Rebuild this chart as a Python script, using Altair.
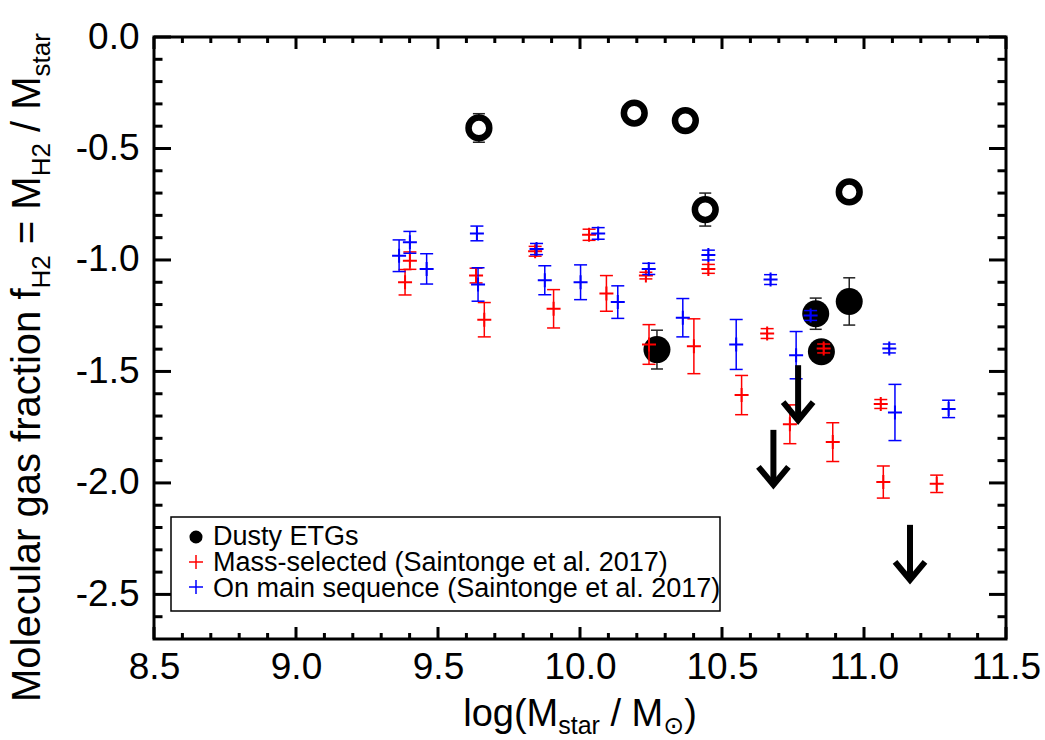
import altair as alt
import pandas as pd
import numpy as np

# ---------------- data ----------------
# Mass-selected (Saintonge et al. 2017) -- red
ms_x = [9.384, 9.401, 9.634, 9.663, 9.842, 9.907, 10.032, 10.093, 10.232, 10.243,
        10.401, 10.452, 10.569, 10.659, 10.739, 10.858, 10.890, 11.059, 11.068, 11.256]
ms_y = [-1.100, -1.003, -1.070, -1.268, -0.961, -1.219, -0.887, -1.150, -1.070, -1.379,
        -1.387, -1.040, -1.606, -1.330, -1.737, -1.397, -1.817, -1.646, -1.996, -2.004]
ms_err = [0.057, 0.039, 0.033, 0.077, 0.022, 0.086, 0.025, 0.080, 0.015, 0.089,
          0.123, 0.020, 0.088, 0.022, 0.087, 0.020, 0.087, 0.020, 0.072, 0.039]

# On main sequence (Saintonge et al. 2017) -- blue
sfms_x = [9.363, 9.401, 9.460, 9.637, 9.641, 9.847, 9.876, 10.002, 10.064, 10.133,
          10.242, 10.362, 10.452, 10.550, 10.671, 10.761, 10.812, 11.089, 11.109, 11.298]
sfms_y = [-0.981, -0.921, -1.040, -0.881, -1.110, -0.951, -1.091, -1.100, -0.881, -1.189,
          -1.040, -1.259, -0.978, -1.379, -1.088, -1.427, -1.249, -1.397, -1.684, -1.668]
sfms_err = [0.071, 0.049, 0.068, 0.033, 0.075, 0.025, 0.065, 0.078, 0.026, 0.073,
            0.025, 0.086, 0.022, 0.112, 0.022, 0.106, 0.022, 0.020, 0.126, 0.039]

# Dusty ETGs (filled)
etg_x = [10.271, 10.830, 10.850, 10.948]
etg_y = [-1.402, -1.241, -1.412, -1.186]
etg_err = [0.087, 0.070, 0.040, 0.106]

# Dusty ETGs (open rings)
ring_x = [9.644, 10.191, 10.371, 10.441, 10.948]
ring_y = [-0.408, -0.341, -0.375, -0.774, -0.695]
ring_err = [0.064, 0.040, 0.040, 0.074, 0.040]

# Upper limits (arrows)
lim_x = [10.681, 10.768, 11.162]
lim_y = [-1.762, -1.472, -2.188]

x_major = [8.5, 9.0, 9.5, 10.0, 10.5, 11.0, 11.5]
y_major = [0.0, -0.5, -1.0, -1.5, -2.0, -2.5]
x_minor = [round(v, 1) for v in np.arange(8.6, 11.45, 0.1) if round(v, 1) not in x_major]
y_minor = [round(v, 1) for v in np.arange(-0.1, -2.65, -0.1) if round(v, 1) not in y_major]

legend_labels = ["Dusty ETGs", "Mass-selected (Saintonge et al. 2017)",
                 "On main sequence (Saintonge et al. 2017)"]

# ---------------- layout / style ----------------
W, H = 852, 602
FONT = "Liberation Sans, Arial, DejaVu Sans"
RED, BLUE = "#ff0000", "#0000ff"
PLUS = "M-1,0L1,0M0,-1L0,1"
CHEV = "M-1,-1.2L0,0L1,-1.2"

xs = alt.Scale(domain=[8.5, 11.5], nice=False, zero=False)
ys = alt.Scale(domain=[-2.7, 0.0], nice=False, zero=False)
lab = "(datum.value < 0 ? '-' : '') + format(abs(datum.value), '.1f')"
xaxis = alt.Axis(values=x_major, labelExpr=lab, labelFontSize=37, labelFont=FONT,
                 labelColor="black", ticks=False, domain=False, grid=False,
                 labelPadding=10, title=None, labelFlush=False, labelOverlap=False)
yaxis = alt.Axis(values=y_major, labelExpr=lab, labelFontSize=37, labelFont=FONT,
                 labelColor="black", ticks=False, domain=False, grid=False,
                 labelPadding=15, title=None, labelFlush=False, labelOverlap=False)


def X(f):
    return alt.X(f"{f}:Q", scale=xs, axis=xaxis)


def Y(f):
    return alt.Y(f"{f}:Q", scale=ys, axis=yaxis)


dummy = pd.DataFrame({"a": [0]})
layers = []

# ---- inward ticks on all four sides ----
for vals, ln in ((x_major, 12), (x_minor, 6)):
    d = pd.DataFrame({"v": vals})
    layers.append(alt.Chart(d).mark_rule(color="black", strokeWidth=3).encode(
        x=X("v"), y=alt.value(H), y2=alt.value(H - ln)))
    layers.append(alt.Chart(d).mark_rule(color="black", strokeWidth=3).encode(
        x=X("v"), y=alt.value(0), y2=alt.value(ln)))
for vals, ln in ((y_major, 17), (y_minor, 8.5)):
    d = pd.DataFrame({"v": vals})
    layers.append(alt.Chart(d).mark_rule(color="black", strokeWidth=3).encode(
        y=Y("v"), x=alt.value(0), x2=alt.value(ln)))
    layers.append(alt.Chart(d).mark_rule(color="black", strokeWidth=3).encode(
        y=Y("v"), x=alt.value(W), x2=alt.value(W - ln)))


def errorbars(df, color, sw=1.5, capw=13):
    base = alt.Chart(df).transform_calculate(lo="datum.y - datum.e", hi="datum.y + datum.e")
    return [
        base.mark_rule(color=color, strokeWidth=sw).encode(x=X("x"), y=Y("lo"), y2="hi"),
        base.mark_tick(color=color, orient="horizontal", size=capw, thickness=sw,
                       opacity=1).encode(x=X("x"), y=Y("lo")),
        base.mark_tick(color=color, orient="horizontal", size=capw, thickness=sw,
                       opacity=1).encode(x=X("x"), y=Y("hi")),
    ]


etg = pd.DataFrame({"x": etg_x, "y": etg_y, "e": etg_err})
ring = pd.DataFrame({"x": ring_x, "y": ring_y, "e": ring_err})
ms = pd.DataFrame({"x": ms_x, "y": ms_y, "e": ms_err})
sf = pd.DataFrame({"x": sfms_x, "y": sfms_y, "e": sfms_err})
lim = pd.DataFrame({"x": lim_x, "y": lim_y})

layers += errorbars(etg, "#222222", sw=1.5, capw=12)
layers.append(alt.Chart(etg).mark_point(shape="circle", filled=True, color="black",
                                        size=729, opacity=1).encode(x=X("x"), y=Y("y")))
layers += errorbars(ring, "#222222", sw=1.5, capw=12)
layers.append(alt.Chart(ring).mark_point(shape="circle", filled=True, fill="white",
                                         stroke="black", strokeWidth=6.5, size=430,
                                         opacity=1).encode(x=X("x"), y=Y("y")))

for df, col in ((ms, RED), (sf, BLUE)):
    layers += errorbars(df, col, sw=1.5, capw=13)
    layers.append(alt.Chart(df).mark_point(shape=PLUS, filled=False, color=col,
                                           strokeWidth=2, size=196, opacity=1).encode(
        x=X("x"), y=Y("y")))

# ---- upper-limit arrows ----
layers.append(alt.Chart(lim).mark_rule(color="black", strokeWidth=6, y2Offset=55).encode(
    x=X("x"), y=Y("y"), y2="y"))
layers.append(alt.Chart(lim).mark_point(shape=CHEV, filled=False, color="black",
                                        strokeWidth=6, size=900, yOffset=55,
                                        opacity=1).encode(x=X("x"), y=Y("y")))

# ---- legend box (drawn by hand, IDL style) ----
layers.append(alt.Chart(dummy).mark_rect(fill="white", stroke="black", strokeWidth=1.5).encode(
    x=alt.value(17), x2=alt.value(566), y=alt.value(480), y2=alt.value(574)))
layers.append(alt.Chart(dummy).mark_point(shape="circle", filled=True, color="black",
                                          size=170, opacity=1).encode(
    x=alt.value(42), y=alt.value(500)))
layers.append(alt.Chart(dummy).mark_point(shape=PLUS, filled=False, color=RED,
                                          strokeWidth=1.5, size=196, opacity=1).encode(
    x=alt.value(42), y=alt.value(525)))
layers.append(alt.Chart(dummy).mark_point(shape=PLUS, filled=False, color=BLUE,
                                          strokeWidth=1.5, size=196, opacity=1).encode(
    x=alt.value(42), y=alt.value(550)))
for i, t in enumerate(legend_labels):
    layers.append(alt.Chart(dummy).mark_text(text=t, font=FONT, fontSize=27, align="left",
                                             baseline="alphabetic", color="black").encode(
        x=alt.value(59), y=alt.value(508 + 26 * i)))

# ---- axis titles with sub-scripts ----
ARIAL = {" ": 278, "(": 333, ")": 333, "/": 278, "=": 584, "2": 556, "M": 833, "H": 722,
         "a": 556, "c": 500, "e": 556, "f": 278, "g": 556, "i": 222, "l": 222, "n": 556,
         "o": 556, "r": 333, "s": 500, "t": 278, "u": 556, "\u2299": 838}


def tw(s, size):
    return sum(ARIAL.get(c, 556) for c in s) * size / 1000.0


def seg(s, x, y, size, angle=0):
    kw = dict(text=s, font=FONT, fontSize=size, align="left", baseline="alphabetic",
              color="black")
    if angle:
        kw["angle"] = angle
    return alt.Chart(dummy).mark_text(**kw).encode(x=alt.value(x), y=alt.value(y))


# x title: log(M_star / M_sun)
FX, SX = 38, 25
xsegs = [("log(M", FX, 0), ("star", SX, 1), (" / M", FX, 0), ("\u2299", SX, 1), (")", FX, 0)]
total = sum(tw(s, f) for s, f, _ in xsegs)
cx = W / 2 - total / 2
for s, f, sub in xsegs:
    lead = len(s) - len(s.lstrip(" "))
    layers.append(seg(s.lstrip(" "), cx + tw(" " * lead, f), 689 + (8 if sub else 0), f))
    cx += tw(s, f)

# y title: Molecular gas fraction f_H2 = M_H2 / M_star  (rotated)
FY, SY = 40, 26
ysegs = [("Molecular gas fraction f", FY, 0), ("H2", SY, 1), (" = M", FY, 0), ("H2", SY, 1),
         (" / M", FY, 0), ("star", SY, 1)]
cy = 665
for s, f, sub in ysegs:
    lead = len(s) - len(s.lstrip(" "))
    layers.append(seg(s.lstrip(" "), -114 + (10 if sub else 0), cy - tw(" " * lead, f), f,
                      angle=270))
    cy -= tw(s, f)

chart = alt.layer(*layers).properties(
    width=W, height=H,
    padding={"left": 154, "top": 37, "right": 1045 - 154 - W, "bottom": 740 - 37 - H},
    autosize=alt.AutoSizeParams(type="none"),
    background="white",
).configure_view(stroke="black", strokeWidth=3)

chart.save("out.html", embed_options={"renderer": "svg", "actions": False})
